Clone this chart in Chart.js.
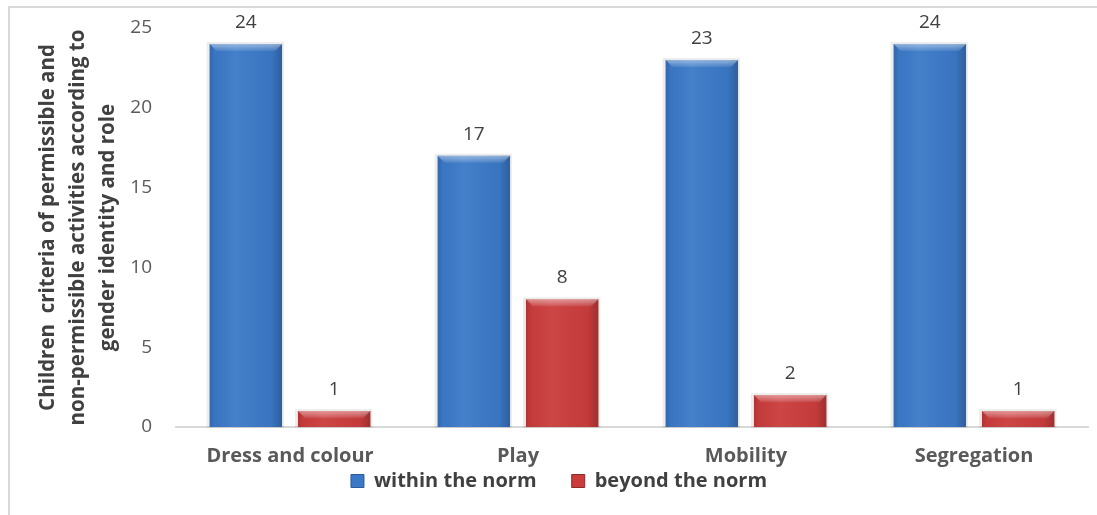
<!DOCTYPE html>
<html>
<head>
<meta charset="utf-8">
<script src="https://cdn.jsdelivr.net/npm/chart.js@4/dist/chart.umd.min.js"></script>
<style>
  html, body { margin: 0; padding: 0; background: #fff; }
  #wrap { position: relative; width: 1097px; height: 515px; overflow: hidden; }
  #frame { position: absolute; left: 8px; top: 6px; width: 1200px; height: 600px;
           border-left: 2px solid #d9d9d9; border-top: 2px solid #d9d9d9; }
  canvas { position: absolute; left: 0; top: 0; }
</style>
</head>
<body>
<div id="wrap">
  <div id="frame"></div>
  <canvas id="chart" width="1097" height="515"></canvas>
</div>
<script>
// Chart data
const categories = ['Dress and colour', 'Play', 'Mobility', 'Segregation'];
const withinNorm = [24, 17, 23, 24];
const beyondNorm = [1, 8, 2, 1];
const yTicks = [0, 5, 10, 15, 20, 25];

const FONT = '"Open Sans", Lato, sans-serif';

// faint shadow behind each bar
const barShadow = {
    id: 'barShadow',
    beforeDatasetsDraw(chart) {
        const ctx = chart.ctx;
        ctx.save();
        ctx.fillStyle = 'rgba(0,0,0,0.07)';
        chart.data.datasets.forEach((ds, di) => {
            chart.getDatasetMeta(di).data.forEach(bar => {
                const left = bar.x - bar.width / 2;
                ctx.fillRect(left - 3, bar.y - 2, bar.width + 5, bar.base - bar.y + 3);
            });
        });
        ctx.restore();
    }
};

// Cylinder-like shading drawn over the library's bars + value labels
const barShading = {
    id: 'barShading',
    afterDatasetsDraw(chart) {
        const ctx = chart.ctx;
        chart.data.datasets.forEach((ds, di) => {
            const meta = chart.getDatasetMeta(di);
            meta.data.forEach((bar, i) => {
                const left = bar.x - bar.width / 2;
                const right = bar.x + bar.width / 2;
                const top = bar.y;
                const bottom = bar.base;
                ctx.save();
                // side shading
                const g = ctx.createLinearGradient(left, 0, right, 0);
                g.addColorStop(0, 'rgba(0,0,0,0.15)');
                g.addColorStop(0.07, 'rgba(0,0,0,0.03)');
                g.addColorStop(0.35, 'rgba(255,255,255,0.05)');
                g.addColorStop(0.85, 'rgba(0,0,0,0.04)');
                g.addColorStop(1, 'rgba(0,0,0,0.22)');
                ctx.fillStyle = g;
                ctx.fillRect(left, top, right - left, bottom - top);
                // top bevel
                const bev = Math.min(7, (bottom - top) / 2);
                const tg = ctx.createLinearGradient(0, top, 0, top + bev);
                tg.addColorStop(0, 'rgba(255,255,255,0.45)');
                tg.addColorStop(1, 'rgba(255,255,255,0.08)');
                ctx.fillStyle = tg;
                ctx.beginPath();
                ctx.moveTo(left, top);
                ctx.lineTo(right, top);
                ctx.lineTo(right - bev, top + bev);
                ctx.lineTo(left + bev, top + bev);
                ctx.closePath();
                ctx.fill();
                ctx.restore();

                // value label
                ctx.save();
                ctx.font = '19px ' + FONT;
                ctx.fillStyle = '#404040';
                ctx.textAlign = 'center';
                ctx.textBaseline = 'bottom';
                ctx.fillText(String(ds.data[i]), bar.x, top - 12);
                ctx.restore();
            });
        });
    }
};

new Chart(document.getElementById('chart'), {
    type: 'bar',
    data: {
        labels: categories,
        datasets: [{
            label: 'within the norm',
            data: withinNorm,
            backgroundColor: '#3b79c8',
            borderWidth: 0,
            categoryPercentage: 0.775,
            barPercentage: 0.82
        }, {
            label: 'beyond the norm',
            data: beyondNorm,
            backgroundColor: '#cb3d3d',
            borderWidth: 0,
            categoryPercentage: 0.775,
            barPercentage: 0.82
        }]
    },
    options: {
        responsive: false,
        animation: false,
        layout: {
            padding: { left: 30, right: 9, top: 28, bottom: 14 }
        },
        plugins: {
            legend: {
                position: 'bottom',
                labels: {
                    color: '#404040',
                    font: { family: FONT, size: 20, weight: 'bold' },
                    boxWidth: 13,
                    boxHeight: 13,
                    padding: 4,
                    generateLabels(chart) {
                        return chart.data.datasets.map((ds, i) => ({
                            // extra spaces widen the gap between the two entries
                            text: i === 0 ? ds.label + '      ' : ds.label,
                            fillStyle: ds.backgroundColor,
                            strokeStyle: i === 0 ? '#2a5a9a' : '#8e2a2a',
                            lineWidth: 1,
                            fontColor: '#404040',
                            datasetIndex: i
                        }));
                    }
                }
            },
            tooltip: { enabled: false }
        },
        scales: {
            x: {
                afterFit(scale) { scale.height = 40; },
                grid: { display: false, drawTicks: false },
                border: { display: true, color: '#d9d9d9', width: 2 },
                ticks: {
                    color: '#595959',
                    font: { family: FONT, size: 20, weight: 'bold' },
                    padding: 17
                }
            },
            y: {
                min: 0,
                max: 25,
                afterFit(scale) {
                    scale.width = 146;
                    scale.paddingTop = 0;
                    scale.paddingBottom = 0;
                },
                afterBuildTicks(scale) { scale.ticks = yTicks.map(v => ({ value: v })); },
                grid: { display: false, drawTicks: false },
                border: { display: false },
                ticks: {
                    color: '#595959',
                    font: { family: FONT, size: 19 },
                    padding: 24
                },
                title: {
                    display: true,
                    text: ['Children  criteria of permissible and',
                           'non-permissible activities according to',
                           'gender identity and role'],
                    color: '#404040',
                    font: { family: FONT, size: 20.5, weight: 'bold', lineHeight: '30px' },
                    padding: { top: 3, bottom: 0 }
                }
            }
        }
    },
    plugins: [barShadow, barShading]
});
</script>
</body>
</html>
